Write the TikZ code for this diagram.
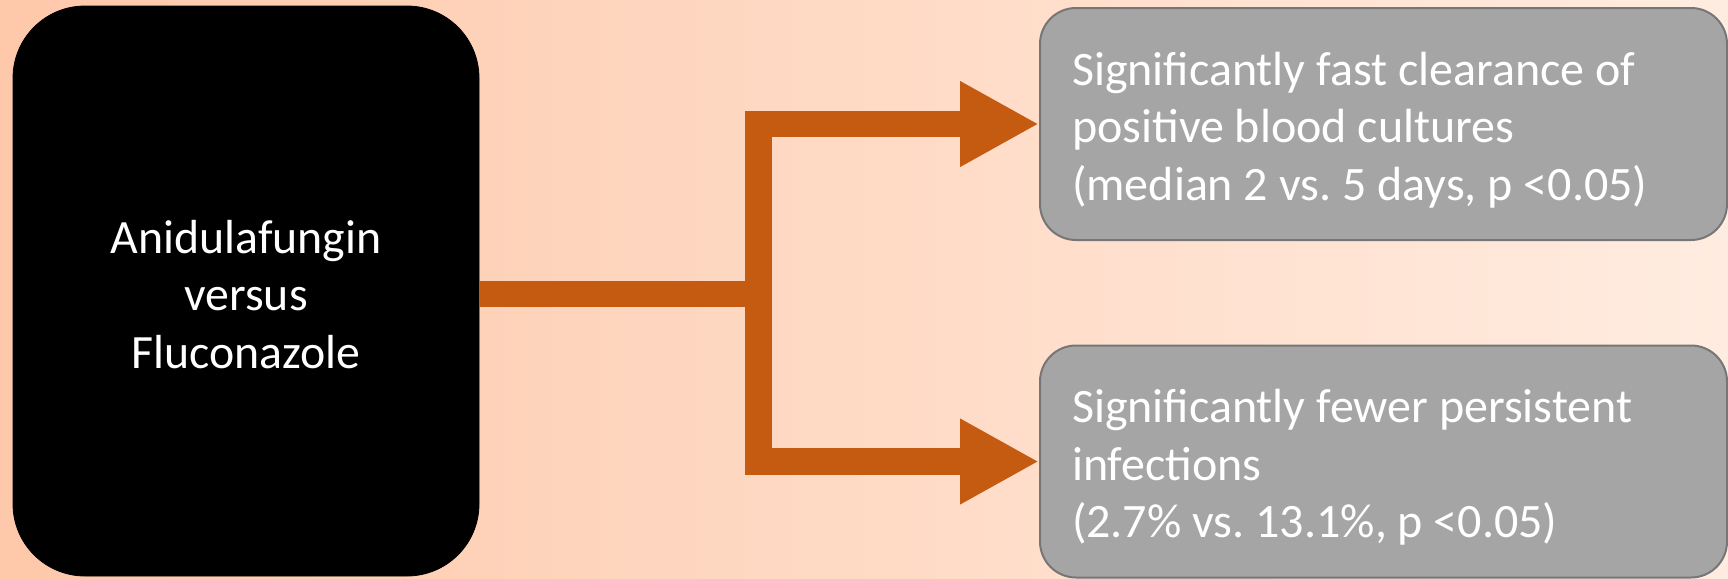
\documentclass[tikz,border=0pt]{standalone}
\usepackage{fontspec}
\setmainfont{Carlito}
\frenchspacing
\usetikzlibrary{arrows.meta,calc}
\definecolor{bgL}{RGB}{254,200,170}
\definecolor{bgR}{RGB}{255,236,224}
\definecolor{conn}{RGB}{197,90,17}
\definecolor{graybox}{RGB}{165,165,165}
\definecolor{grayedge}{RGB}{118,118,118}
\newcommand\firstlinestrut{\rule{0pt}{22.5pt}}
\tikzset{
  srcbox/.style={draw=black, fill=black, rounded corners=36pt, minimum width=233pt, minimum height=285pt, text=white, align=center, inner sep=0pt, font=\fontsize{23.9pt}{28.6pt}\selectfont},
  resbox/.style={draw=grayedge, line width=1pt, fill=graybox, rounded corners=18pt, minimum width=343.5pt, minimum height=116pt, text=white, align=left, text width=311.5pt, inner xsep=16pt, inner ysep=0pt, font=\fontsize{24pt}{28.8pt}\selectfont, execute at begin node={\spaceskip=0.226em plus 0.1em minus 0.05em\xspaceskip=0.226em\relax}},
  connline/.style={draw=conn, line width=13.4pt, line join=miter},
  conntip/.style={-{Triangle[length=39.5pt,width=40pt]}}
}
\begin{document}
\begin{tikzpicture}[x=0.5pt,y=-0.5pt]
\useasboundingbox (0,0) rectangle (1728,578);
\shade[left color=bgL, right color=bgR] (0,0) rectangle (1728,578);
\node[srcbox] (L) at (246,291) {\rule{0pt}{20pt}Anidulafungin\\versus\\Fluconazole};
\node[resbox] (A) at (1383.5,124) {\firstlinestrut Significantly fast clearance of\\positive blood cultures\\(median 2 vs. 5 days, p <0.05)};
\node[resbox] (B) at (1383.5,461.5) {\firstlinestrut Significantly fewer persistent\\infections\\(2.7\% vs. 13.1\%, p <0.05)};
\coordinate (J) at (758.5,294);
\draw[connline] (L.east |- J) -- ($(J)+(13,0)$);
\draw[connline,conntip] (J) -- (J |- A.west) -- (A.west);
\draw[connline,conntip] (J) -- (J |- B.west) -- (B.west);
\end{tikzpicture}
\end{document}
